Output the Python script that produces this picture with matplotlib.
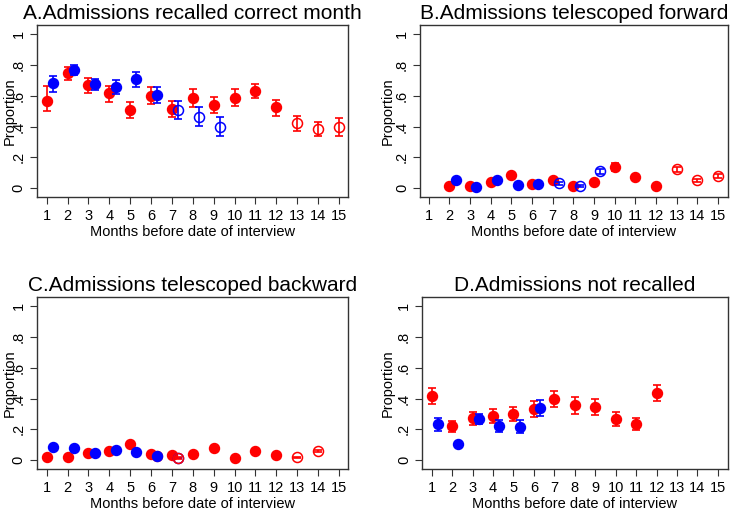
import matplotlib.pyplot as plt
import numpy as np

plt.rcParams['font.family'] = ['Liberation Sans', 'DejaVu Sans']

months = list(range(1, 16))
tick_labels = ['0', '.2', '.4', '.6', '.8', '1']

# A. recalled correct month
a_red_x = [1, 2, 3, 4, 5, 6, 7, 8, 9, 10, 11, 12]
a_red_y = [0.566, 0.745, 0.667, 0.616, 0.508, 0.600, 0.514, 0.587, 0.540, 0.587, 0.631, 0.525]
a_red_lo = [0.503, 0.702, 0.620, 0.562, 0.454, 0.544, 0.460, 0.529, 0.486, 0.533, 0.583, 0.471]
a_red_hi = [0.663, 0.788, 0.713, 0.665, 0.562, 0.654, 0.566, 0.646, 0.594, 0.641, 0.676, 0.572]
a_redo_x = [13, 14, 15]
a_redo_y = [0.421, 0.387, 0.395]
a_redo_lo = [0.371, 0.339, 0.339]
a_redo_hi = [0.469, 0.432, 0.458]
a_blue_x = [1.3, 2.3, 3.3, 4.3, 5.3, 6.3]
a_blue_y = [0.680, 0.767, 0.676, 0.659, 0.706, 0.605]
a_blue_lo = [0.626, 0.734, 0.637, 0.611, 0.659, 0.555]
a_blue_hi = [0.728, 0.803, 0.706, 0.702, 0.756, 0.659]
a_blueo_x = [7.3, 8.3, 9.3]
a_blueo_y = [0.508, 0.464, 0.400]
a_blueo_lo = [0.449, 0.404, 0.339]
a_blueo_hi = [0.566, 0.525, 0.460]

# B. telescoped forward
b_red_x = [2, 3, 4, 5, 6, 7, 8, 9, 10, 11, 12]
b_red_y = [0.015, 0.015, 0.037, 0.086, 0.028, 0.052, 0.015, 0.037, 0.134, 0.073, 0.011]
b_red_lo = [0.008, 0.008, 0.028, 0.074, 0.020, 0.042, 0.008, 0.028, 0.108, 0.062, 0.005]
b_red_hi = [0.022, 0.022, 0.046, 0.098, 0.036, 0.062, 0.022, 0.046, 0.162, 0.084, 0.017]
b_redo_x = [13, 14, 15]
b_redo_y = [0.121, 0.052, 0.080]
b_redo_lo = [0.102, 0.042, 0.066]
b_redo_hi = [0.140, 0.062, 0.094]
b_blue_x = [2.3, 3.3, 4.3, 5.3, 6.3]
b_blue_y = [0.050, 0.009, 0.050, 0.017, 0.028]
b_blue_lo = [0.040, 0.004, 0.040, 0.010, 0.020]
b_blue_hi = [0.060, 0.014, 0.060, 0.024, 0.036]
b_blueo_x = [7.3, 8.3, 9.3]
b_blueo_y = [0.030, 0.015, 0.108]
b_blueo_lo = [0.020, 0.008, 0.090]
b_blueo_hi = [0.040, 0.022, 0.126]

# C. telescoped backward
c_red_x = [1, 2, 3, 4, 5, 6, 6.3, 7, 8, 9, 10, 11, 12]
c_red_y = [0.020, 0.020, 0.043, 0.059, 0.104, 0.037, 0.024, 0.033, 0.039, 0.076, 0.011, 0.061, 0.030]
c_red_lo = [0.014, 0.014, 0.034, 0.050, 0.090, 0.029, 0.017, 0.025, 0.031, 0.066, 0.006, 0.052, 0.023]
c_red_hi = [0.026, 0.026, 0.052, 0.068, 0.118, 0.045, 0.031, 0.041, 0.047, 0.086, 0.016, 0.070, 0.037]
c_redo_x = [7.3, 13, 14]
c_redo_y = [0.013, 0.017, 0.059]
c_redo_lo = [0.008, 0.011, 0.050]
c_redo_hi = [0.018, 0.023, 0.068]
c_blue_x = [1.3, 2.3, 3.3, 4.3, 5.3, 6.3]
c_blue_y = [0.083, 0.076, 0.043, 0.065, 0.054, 0.028]
c_blue_lo = [0.073, 0.066, 0.035, 0.056, 0.045, 0.022]
c_blue_hi = [0.093, 0.086, 0.051, 0.074, 0.063, 0.034]
c_blueo_x = [7.3]
c_blueo_y = [0.013]
c_blueo_lo = [0.011]
c_blueo_hi = [0.015]

# D. not recalled
d_red_x = [1, 2, 3, 4, 5, 6, 7, 8, 9, 10, 11, 12]
d_red_y = [0.417, 0.222, 0.272, 0.287, 0.302, 0.333, 0.398, 0.357, 0.346, 0.265, 0.235, 0.435]
d_red_lo = [0.365, 0.185, 0.228, 0.239, 0.254, 0.278, 0.343, 0.302, 0.293, 0.220, 0.196, 0.385]
d_red_hi = [0.467, 0.257, 0.315, 0.333, 0.348, 0.385, 0.450, 0.411, 0.398, 0.311, 0.272, 0.485]
d_blue_x = [1.3, 2.3, 3.3, 4.3, 5.3, 6.3]
d_blue_y = [0.235, 0.104, 0.267, 0.224, 0.217, 0.339]
d_blue_lo = [0.189, 0.095, 0.233, 0.185, 0.178, 0.287]
d_blue_hi = [0.276, 0.113, 0.302, 0.259, 0.259, 0.391]

RED = '#ff0000'
BLUE = '#0000ff'


def draw(ax, x, y, lo, hi, color, filled, z):
    if len(x) == 0:
        return
    y = np.array(y)
    err = [y - np.array(lo), np.array(hi) - y]
    ax.errorbar(x, y, yerr=err, fmt='none', ecolor=color, elinewidth=1.2,
                capsize=3, capthick=1.2, zorder=z)
    if filled:
        ax.plot(x, y, 'o', color=color, ms=7.2, mec=color, zorder=z + 0.5)
    else:
        ax.plot(x, y, 'o', mfc='none', mec=color, ms=7.2, mew=1.1, zorder=z + 0.5)


fig = plt.figure(figsize=(7.32, 5.11), dpi=100)

panels = [
    ('A.Admissions recalled correct month', [0.0505, 0.6145, 0.4249, 0.3366], (0.535, 15.43), -0.087,
     [(a_red_x, a_red_y, a_red_lo, a_red_hi, RED, True, 2),
      (a_redo_x, a_redo_y, a_redo_lo, a_redo_hi, RED, False, 2),
      (a_blue_x, a_blue_y, a_blue_lo, a_blue_hi, BLUE, True, 3),
      (a_blueo_x, a_blueo_y, a_blueo_lo, a_blueo_hi, BLUE, False, 3)]),
    ('B.Admissions telescoped forward', [0.5738, 0.6145, 0.4208, 0.3366], (0.58, 15.48), -0.104,
     [(b_red_x, b_red_y, b_red_lo, b_red_hi, RED, True, 2),
      (b_redo_x, b_redo_y, b_redo_lo, b_redo_hi, RED, False, 2),
      (b_blue_x, b_blue_y, b_blue_lo, b_blue_hi, BLUE, True, 3),
      (b_blueo_x, b_blueo_y, b_blueo_lo, b_blueo_hi, BLUE, False, 3)]),
    ('C.Admissions telescoped backward', [0.0505, 0.0822, 0.4249, 0.3366], (0.535, 15.43), -0.087,
     [(c_red_x, c_red_y, c_red_lo, c_red_hi, RED, True, 2),
      (c_blueo_x, c_blueo_y, c_blueo_lo, c_blueo_hi, BLUE, False, 2),
      (c_redo_x, c_redo_y, c_redo_lo, c_redo_hi, RED, False, 3),
      (c_blue_x, c_blue_y, c_blue_lo, c_blue_hi, BLUE, True, 3)]),
    ('D.Admissions not recalled', [0.5765, 0.0822, 0.4180, 0.3366], (0.53, 15.49), -0.111,
     [(d_red_x, d_red_y, d_red_lo, d_red_hi, RED, True, 2),
      (d_blue_x, d_blue_y, d_blue_lo, d_blue_hi, BLUE, True, 3)]),
]

for title, rect, xlim, ylab_x, series in panels:
    ax = fig.add_axes(rect)
    for s in series:
        draw(ax, *s)
    ax.set_xlim(*xlim)
    ax.set_ylim(-0.058, 1.06)
    ax.set_xticks(months)
    ax.set_xticklabels([str(m) for m in months])
    ax.set_yticks([0, 0.2, 0.4, 0.6, 0.8, 1.0])
    ax.set_yticklabels(tick_labels, rotation=90, va='center')
    ax.tick_params(axis='both', labelsize=10.5, length=5, width=0.8, color='#333333')
    ax.tick_params(axis='x', pad=4)
    ax.tick_params(axis='y', pad=3)
    for sp in ax.spines.values():
        sp.set_color('#333333')
        sp.set_linewidth(1.0)
    ax.set_xlabel('Months before date of interview', fontsize=10.5, labelpad=1)
    ax.set_ylabel('Proportion', fontsize=10.5, va='center')
    ax.yaxis.set_label_coords(ylab_x, 0.5)
    ax.set_title(title, fontsize=15, pad=4)

fig.savefig('out.png', dpi=100)
